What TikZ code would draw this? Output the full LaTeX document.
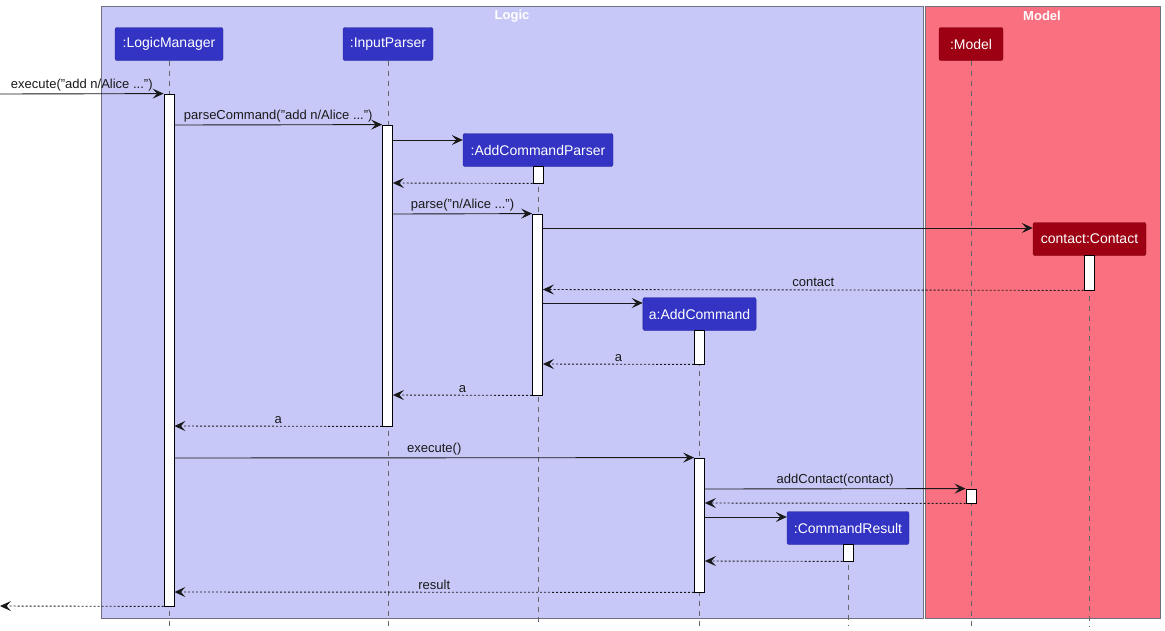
\documentclass[tikz,border=0pt]{standalone}
\usepackage{fontspec}
\setmainfont{Liberation Sans}
\usetikzlibrary{arrows.meta}
\definecolor{logicbg}{HTML}{C8C8F8}
\definecolor{modelbg}{HTML}{F97181}
\definecolor{logichead}{HTML}{3333C4}
\definecolor{modelhead}{HTML}{9D0012}
\definecolor{grpborder}{HTML}{707080}
\tikzset{
  grp/.style={draw=grpborder, line width=0.8pt},
  grptitle/.style={text=white, font=\fontsize{13}{15}\selectfont\bfseries, anchor=center},
  head/.style={fill=#1, draw=#1!80!black, rounded corners=2pt, text=white,
    font=\fontsize{14}{16}\selectfont, minimum height=33pt, inner xsep=6pt, inner ysep=0pt},
  act/.style={draw=black, fill=white, line width=0.8pt, minimum width=10pt, inner sep=0pt},
  life/.style={draw=black!60, dash pattern=on 5pt off 5pt, line width=0.7pt},
  msg/.style={draw=black!90, line width=0.9pt, -{Stealth[length=11pt,width=10pt,inset=4.5pt]}},
  ret/.style={msg, dash pattern=on 2pt off 2pt},
  lbl/.style={font=\fontsize{13}{15}\selectfont, text=black!90, inner sep=0pt}
}
\begin{document}
\begin{tikzpicture}[x=1pt,y=-1pt]
\useasboundingbox (0,0) rectangle (1165,630);
% groups
\node[grp, fill=logicbg, minimum width=822pt, minimum height=612pt, anchor=north west] (logic) at (101,6) {};
\node[grp, fill=modelbg, minimum width=235pt, minimum height=612pt, anchor=north west] (model) at (925,6) {};
\node[grptitle] (logicT) at (512,16) {Logic};
\node[grptitle] (modelT) at (1042,16) {Model};
% heads
\node[head=logichead, minimum width=108pt] (LM) at (169,44) {:LogicManager};
\node[head=logichead, minimum width=90pt] (IP) at (388,44) {:InputParser};
\node[head=modelhead, minimum width=64pt] (MD) at (971,44) {:Model};
\node[head=logichead, minimum width=150pt] (ACP) at (538,150) {:AddCommandParser};
\node[head=modelhead, minimum width=113pt] (CT) at (1089.5,239) {contact:Contact};
\node[head=logichead, minimum width=113pt] (AC) at (699.5,314) {a:AddCommand};
\node[head=logichead, minimum width=122pt] (CR) at (848,528) {:CommandResult};
% lifeline ends
\coordinate (LMe) at (169,626);
\coordinate (IPe) at (388,626);
\coordinate (MDe) at (971,626);
\coordinate (ACPe) at (538,626);
\coordinate (CTe) at (1089.5,626);
\coordinate (ACe) at (699.5,626);
\coordinate (CRe) at (848,626);
\foreach \n in {LM,IP,MD,ACP,CT,AC,CR} \draw[life] (\n.south) -- (\n e);
% activations
\node[act, minimum height=512pt] (aLM) at (169,350) {};
\node[act, minimum height=301pt] (aIP) at (387.5,275.5) {};
\node[act, minimum height=17pt] (aACP1) at (538,174.5) {};
\node[act, minimum height=181pt] (aACP2) at (537.5,304.5) {};
\node[act, minimum height=35pt] (aCT) at (1089,272.5) {};
\node[act, minimum height=34pt] (aAC1) at (699.5,347) {};
\node[act, minimum height=134pt] (aAC2) at (699.5,525) {};
\node[act, minimum height=14pt] (aMD) at (971,496) {};
\node[act, minimum height=17pt] (aCR) at (848,552.5) {};
% external
\coordinate (ext1) at (0,94);
\coordinate (ext2) at (0,606);
% messages
\draw[msg] (ext1) -- (aLM.north west) node[lbl, midway, above=2.5pt] {execute("add n/Alice ...")};
\draw[msg] (aLM.east |- 0,125) -- (aIP.north west) node[lbl, midway, above=2.5pt] {parseCommand("add n/Alice ...")};
\draw[msg] (aIP.east |- 0,140) -- (ACP.west |- 0,140);
\draw[ret] (aACP1.south west) -- (aIP.east |- 0,183);
\draw[msg] (aIP.east |- 0,214) -- (aACP2.north west) node[lbl, midway, above=2.5pt] {parse("n/Alice ...")};
\draw[msg] (aACP2.east |- 0,228) -- (CT.west |- 0,228);
\draw[ret] (aCT.south west) -- (aACP2.east |- 0,289.5) node[lbl, midway, above=2.5pt] {contact};
\draw[msg] (aACP2.east |- 0,303) -- (AC.west |- 0,303);
\draw[ret] (aAC1.south west) -- (aACP2.east |- 0,364) node[lbl, midway, above=2.5pt] {a};
\draw[ret] (aACP2.south west) -- (aIP.east |- 0,395) node[lbl, midway, above=2.5pt] {a};
\draw[ret] (aIP.south west) -- (aLM.east |- 0,426) node[lbl, midway, above=2.5pt] {a};
\draw[msg] (aLM.east |- 0,458) -- (aAC2.north west) node[lbl, midway, above=2.5pt] {execute()};
\draw[msg] (aAC2.east |- 0,489) -- (aMD.north west) node[lbl, midway, above=2.5pt] {addContact(contact)};
\draw[ret] (aMD.south west) -- (aAC2.east |- 0,503);
\draw[msg] (aAC2.east |- 0,517) -- (CR.west |- 0,517);
\draw[ret] (aCR.south west) -- (aAC2.east |- 0,561);
\draw[ret] (aAC2.south west) -- (aLM.east |- 0,592) node[lbl, midway, above=2.5pt] {result};
\draw[ret] (aLM.south west) -- (ext2);
\end{tikzpicture}
\end{document}
